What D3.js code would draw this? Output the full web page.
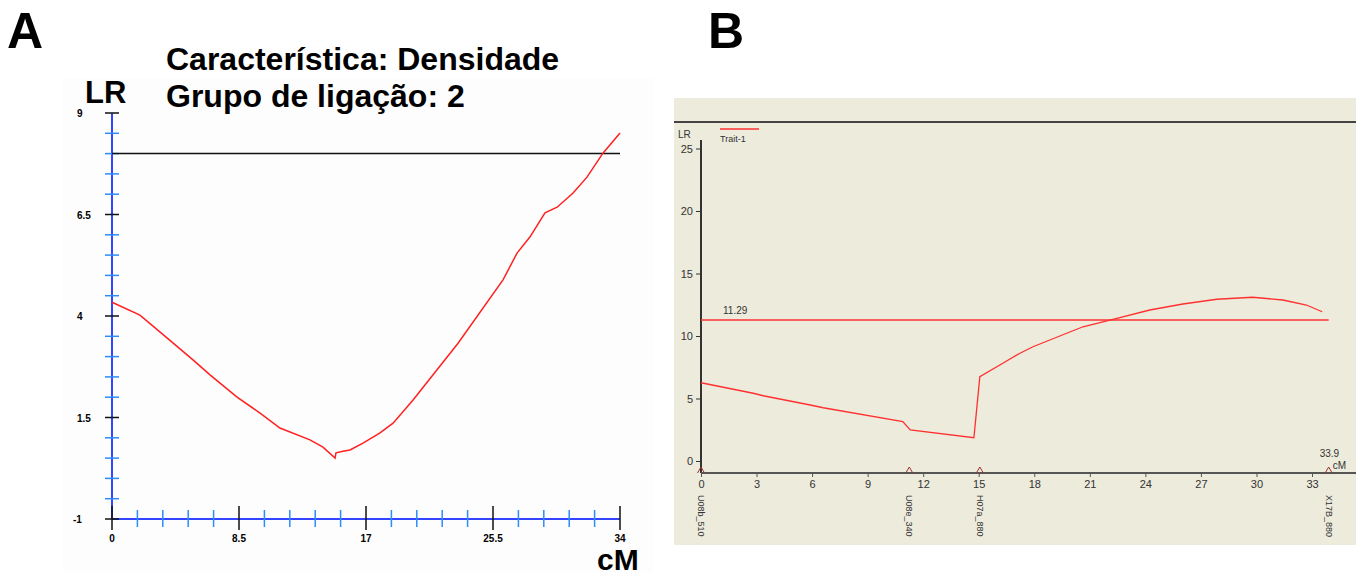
<!DOCTYPE html>
<html>
<head>
<meta charset="utf-8">
<script src="https://cdn.jsdelivr.net/npm/d3@7/dist/d3.min.js"></script>
<style>
  body { margin: 0; background: #fff; }
  svg { display: block; }
</style>
</head>
<body>
<div id="chart"></div>
<script>
// ---- panel A data (LR profile, group 2, Densidade) ----
var aPos = [0, 1.87, 3.68, 5.42, 6.56, 8.37, 9.91, 11.24, 13.25, 14.12, 14.93, 14.99, 15.46, 15.93, 16.8, 17.94, 18.81, 20.15, 23.16, 26.17, 27.11, 27.98, 28.98, 29.79, 30.86, 31.79, 32.86, 34]
var aLR = [4.34, 4.02, 3.46, 2.92, 2.55, 2.0, 1.61, 1.24, 0.95, 0.77, 0.5, 0.63, 0.67, 0.7, 0.87, 1.12, 1.36, 1.93, 3.33, 4.89, 5.55, 5.95, 6.54, 6.68, 7.03, 7.42, 8.01, 8.51]
var aThreshold = 8.0
var aYTicks = [-1, 1.5, 4, 6.5, 9]
var aXTicks = [0, 8.5, 17, 25.5, 34]

// ---- panel B data (Trait-1) ----
var bPos = [0, 2.82, 3.36, 5.9, 6.6, 10.9, 11.3, 14.74, 15.06, 16.14, 17.2, 17.93, 20.63, 22.25, 24.24, 26.03, 27.86, 29.8, 31.43, 32.7, 33.55]
var bLR = [6.26, 5.42, 5.22, 4.48, 4.26, 3.15, 2.48, 1.86, 6.74, 7.68, 8.6, 9.14, 10.74, 11.33, 12.08, 12.56, 12.94, 13.1, 12.88, 12.48, 11.94]
var bThreshold = 11.29
var bMarkerNames = ["U08b_510", "U08e_340", "H07a_880", "X17B_880"]
var bMarkerPos = [0, 11.25, 15.06, 33.9]
var bYTicks = [0, 5, 10, 15, 20, 25]
var bXTicks = [0, 3, 6, 9, 12, 15, 18, 21, 24, 27, 30, 33]

var W = 1362, H = 576
var svg = d3.select("#chart").append("svg")
    .attr("width", W).attr("height", H)

// ===================== panel A =====================
var gA = svg.append("g")
gA.append("rect").attr("x", 63).attr("y", 78).attr("width", 590).attr("height", 494)
    .attr("fill", "#fdfdfd")

var xA = d3.scaleLinear().domain([0, 34]).range([112, 620])
var yA = d3.scaleLinear().domain([-1, 9]).range([519, 113])

// minor ticks (blue) every 0.5 LR and 1.7 cM
var aYMinor = d3.range(-1, 9.01, 0.5).filter(function(v){ return aYTicks.indexOf(v) < 0 })
var aXMinor = d3.range(0, 34.01, 1.7).map(function(v){ return +v.toFixed(1) })
    .filter(function(v){ return aXTicks.indexOf(v) < 0 })

// axis lines
gA.append("line").attr("x1", xA(0)).attr("x2", xA(0)).attr("y1", yA(9)).attr("y2", yA(-1))
    .attr("stroke", "#3344ff").attr("stroke-width", 2)
gA.append("line").attr("x1", xA(0)).attr("x2", xA(34)).attr("y1", yA(-1)).attr("y2", yA(-1))
    .attr("stroke", "#3344ff").attr("stroke-width", 2)

gA.selectAll(".ymin").data(aYMinor).enter().append("line")
    .attr("x1", 105).attr("x2", 119)
    .attr("y1", function(d){ return yA(d) }).attr("y2", function(d){ return yA(d) })
    .attr("stroke", "#2a8cff").attr("stroke-width", 1.5)
gA.selectAll(".xmin").data(aXMinor).enter().append("line")
    .attr("x1", function(d){ return xA(d) }).attr("x2", function(d){ return xA(d) })
    .attr("y1", 510).attr("y2", 527)
    .attr("stroke", "#2a8cff").attr("stroke-width", 1.5)

gA.selectAll(".ymaj").data(aYTicks).enter().append("line")
    .attr("x1", 105).attr("x2", 119)
    .attr("y1", function(d){ return yA(d) }).attr("y2", function(d){ return yA(d) })
    .attr("stroke", "#111").attr("stroke-width", 1.5)
gA.selectAll(".xmaj").data(aXTicks).enter().append("line")
    .attr("x1", function(d){ return xA(d) }).attr("x2", function(d){ return xA(d) })
    .attr("y1", 506).attr("y2", 530)
    .attr("stroke", "#111").attr("stroke-width", 1.5)

gA.selectAll(".ylab").data(aYTicks).enter().append("text")
    .attr("x", function(d){ return d < 0 ? 73 : 77 })
    .attr("y", function(d){ return yA(d) + 4 })
    .style("font-family", "Liberation Sans").style("font-weight", "bold").style("font-size", "10px")
    .text(function(d){ return d })
gA.selectAll(".xlab").data(aXTicks).enter().append("text")
    .attr("x", function(d){ return xA(d) }).attr("y", 542)
    .attr("text-anchor", "middle")
    .style("font-family", "Liberation Sans").style("font-weight", "bold").style("font-size", "10px")
    .text(function(d){ return d })

// threshold
gA.append("line").attr("x1", xA(0)).attr("x2", xA(34)).attr("y1", yA(aThreshold)).attr("y2", yA(aThreshold))
    .attr("stroke", "#111").attr("stroke-width", 1.5)

// LR curve
var aData = aPos.map(function(p, i){ return [p, aLR[i]] })
gA.append("path").datum(aData)
    .attr("d", d3.line().x(function(d){ return xA(d[0]) }).y(function(d){ return yA(d[1]) }))
    .attr("fill", "none").attr("stroke", "#ff2020").attr("stroke-width", 1.5)

// labels
var bold = function(sel, size){
  return sel.style("font-family", "Liberation Sans").style("font-weight", "bold").style("font-size", size + "px")
}
bold(svg.append("text").attr("x", 7).attr("y", 48).text("A"), 50)
bold(svg.append("text").attr("x", 708).attr("y", 48).text("B"), 50)
bold(gA.append("text").attr("x", 85).attr("y", 103).text("LR"), 31)
bold(gA.append("text").attr("x", 597).attr("y", 570).text("cM"), 30)
bold(gA.append("text").attr("x", 166).attr("y", 70).text("Característica: Densidade"), 32)
bold(gA.append("text").attr("x", 166).attr("y", 107).text("Grupo de ligação: 2"), 32)

// ===================== panel B =====================
var gB = svg.append("g")
gB.append("rect").attr("x", 674).attr("y", 98).attr("width", 682).attr("height", 447)
    .attr("fill", "#ecebdc")
gB.append("line").attr("x1", 674).attr("x2", 1356).attr("y1", 122).attr("y2", 122)
    .attr("stroke", "#444").attr("stroke-width", 2)

var xB = d3.scaleLinear().domain([0, 33]).range([701, 1312])
var yB = d3.scaleLinear().domain([0, 25]).range([461, 148.5])

var axL = gB.append("g").attr("transform", "translate(701,0)")
    .call(d3.axisLeft(yB).tickValues(bYTicks).tickSize(5).tickPadding(3))
axL.select(".domain").attr("d", "M0,140V473").attr("stroke", "#333").attr("stroke-width", 2)
axL.selectAll(".tick line").attr("stroke", "#333")
axL.selectAll("text").style("font-family", "Liberation Sans").style("font-size", "11px").attr("fill", "#333")

var axB = gB.append("g").attr("transform", "translate(0,473)")
    .call(d3.axisBottom(xB).tickValues(bXTicks).tickSize(4).tickPadding(3))
axB.select(".domain").attr("d", "M701,0H1356").attr("stroke", "#555").attr("stroke-width", 2)
axB.selectAll(".tick line").attr("stroke", "#555")
axB.selectAll("text").style("font-family", "Liberation Sans").style("font-size", "11px").attr("fill", "#333")

// threshold + label
gB.append("line").attr("x1", xB(0)).attr("x2", xB(33.9)).attr("y1", yB(bThreshold)).attr("y2", yB(bThreshold))
    .attr("stroke", "#ff3030").attr("stroke-width", 1.5)
gB.append("text").attr("x", 723).attr("y", 314).text(bThreshold)
    .style("font-family", "Liberation Sans").style("font-size", "10px").attr("fill", "#333")

// curve
var bData = bPos.map(function(p, i){ return [p, bLR[i]] })
gB.append("path").datum(bData)
    .attr("d", d3.line().x(function(d){ return xB(d[0]) }).y(function(d){ return yB(d[1]) }))
    .attr("fill", "none").attr("stroke", "#ff3030").attr("stroke-width", 1.3)

// markers
var mk = gB.selectAll(".mk").data(bMarkerNames).enter().append("g")
    .attr("transform", function(d, i){ return "translate(" + xB(bMarkerPos[i]) + ",0)" })
mk.append("path").attr("d", "M-3.5,473L0,467L3.5,473")
    .attr("fill", "none").attr("stroke", "#a03030").attr("stroke-width", 1)
mk.append("text").attr("transform", "translate(-3,495) rotate(90)")
    .style("font-family", "Liberation Sans").style("font-size", "9px").attr("fill", "#333")
    .text(function(d){ return d })

gB.append("text").attr("x", xB(33.9) - 9).attr("y", 457).text(bMarkerPos[3])
    .style("font-family", "Liberation Sans").style("font-size", "10px").attr("fill", "#333")
gB.append("text").attr("x", xB(33.9) + 4).attr("y", 469).text("cM")
    .style("font-family", "Liberation Sans").style("font-size", "10px").attr("fill", "#333")

// legend + LR title
gB.append("text").attr("x", 678).attr("y", 138).text("LR")
    .style("font-family", "Liberation Sans").style("font-size", "10px").attr("fill", "#333")
gB.append("line").attr("x1", 720).attr("x2", 759).attr("y1", 129).attr("y2", 129)
    .attr("stroke", "#ff3030").attr("stroke-width", 1.3)
gB.append("text").attr("x", 720).attr("y", 142).text("Trait-1")
    .style("font-family", "Liberation Sans").style("font-size", "9px").attr("fill", "#333")
</script>
</body>
</html>
